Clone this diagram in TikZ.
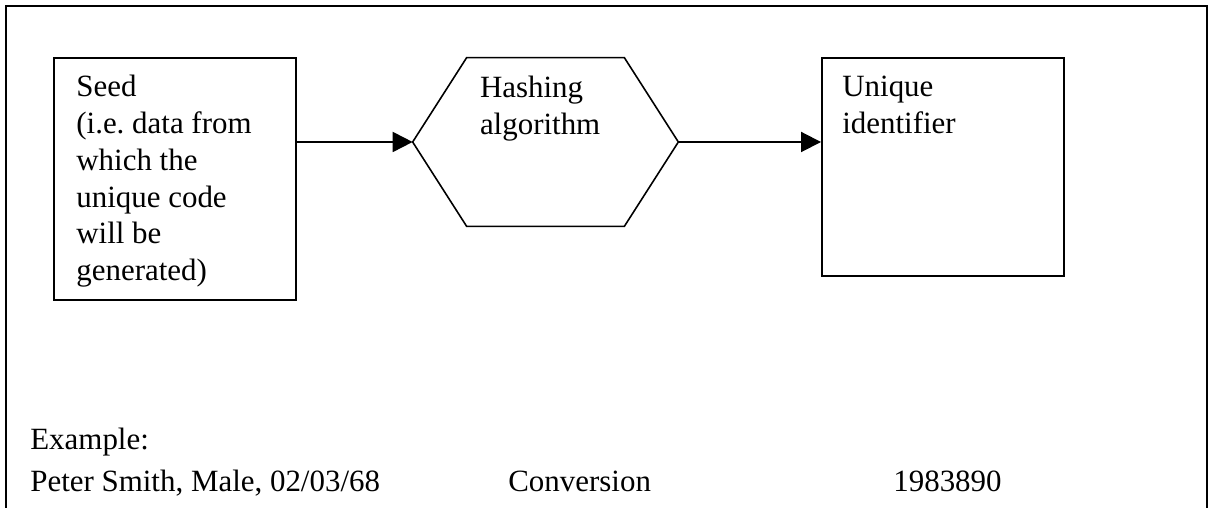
\documentclass[tikz,border=0pt]{standalone}
\usepackage{fontspec}
\setmainfont{Liberation Serif}
\usetikzlibrary{arrows.meta}

\begin{document}
\begin{tikzpicture}[
    box/.style={draw, line width=1.1pt, minimum width=4.84cm, inner sep=0pt},
    txt/.style={anchor=base west, align=left, inner sep=0pt, font=\fontsize{17.6}{20.9}\selectfont\frenchspacing},
    conn/.style={line width=1.1pt, -{Triangle[length=0.4cm,width=0.4cm]}}
]
    \useasboundingbox (0,0) rectangle (24.18,10.16);
    % Draw the outer frame, open at the bottom
    \draw[line width=1.1pt] (0.12,-0.2) -- (0.12,10.04) -- (24.14,10.04) -- (24.14,-0.2);
    % Draw the seed box
    \node[box, minimum height=4.84cm] (seed) at (3.5,6.58) {};
    % Draw the hashing hexagon round an empty node
    \node[minimum width=5.3cm, minimum height=3.36cm, inner sep=0pt] (hash) at (10.91,7.32) {};
    \draw[line width=0.9pt] (hash.west) -- ([xshift=1.08cm]hash.north west) -- ([xshift=-1.08cm]hash.north east)
        -- (hash.east) -- ([xshift=-1.08cm]hash.south east) -- ([xshift=1.08cm]hash.south west) -- cycle;
    % Draw the unique identifier box
    \node[box, minimum height=4.36cm] (uniq) at (18.86,6.82) {};
    % Draw the arrows
    \draw[conn] (seed.east |- hash.west) -- (hash.west);
    \draw[conn] (hash.east) -- (hash.east -| uniq.west);
    % Texts inside the shapes, hung from their top left corners
    \node[txt, anchor=north west] (seedtxt) at ([shift={(0.46,-0.36)}]seed.north west) {Seed\\(i.e. data from\\which the\\unique code\\will be\\generated)};
    \node[txt, anchor=north west] (hashtxt) at ([shift={(1.34,-0.36)}]hash.north west) {Hashing\\algorithm};
    \node[txt, anchor=north west] (uniqtxt) at ([shift={(0.42,-0.37)}]uniq.north west) {Unique\\identifier};
    % The example line
    \node[txt] (example) at (0.6,1.16) {Example:};
    \node[txt] (person) at (0.6,0.32) {Peter Smith, Male, 02/03/68};
    \node[txt] (conv) at (10.16,0.32) {Conversion};
    \node[txt] (code) at (17.86,0.32) {1983890};
\end{tikzpicture}
\end{document}
